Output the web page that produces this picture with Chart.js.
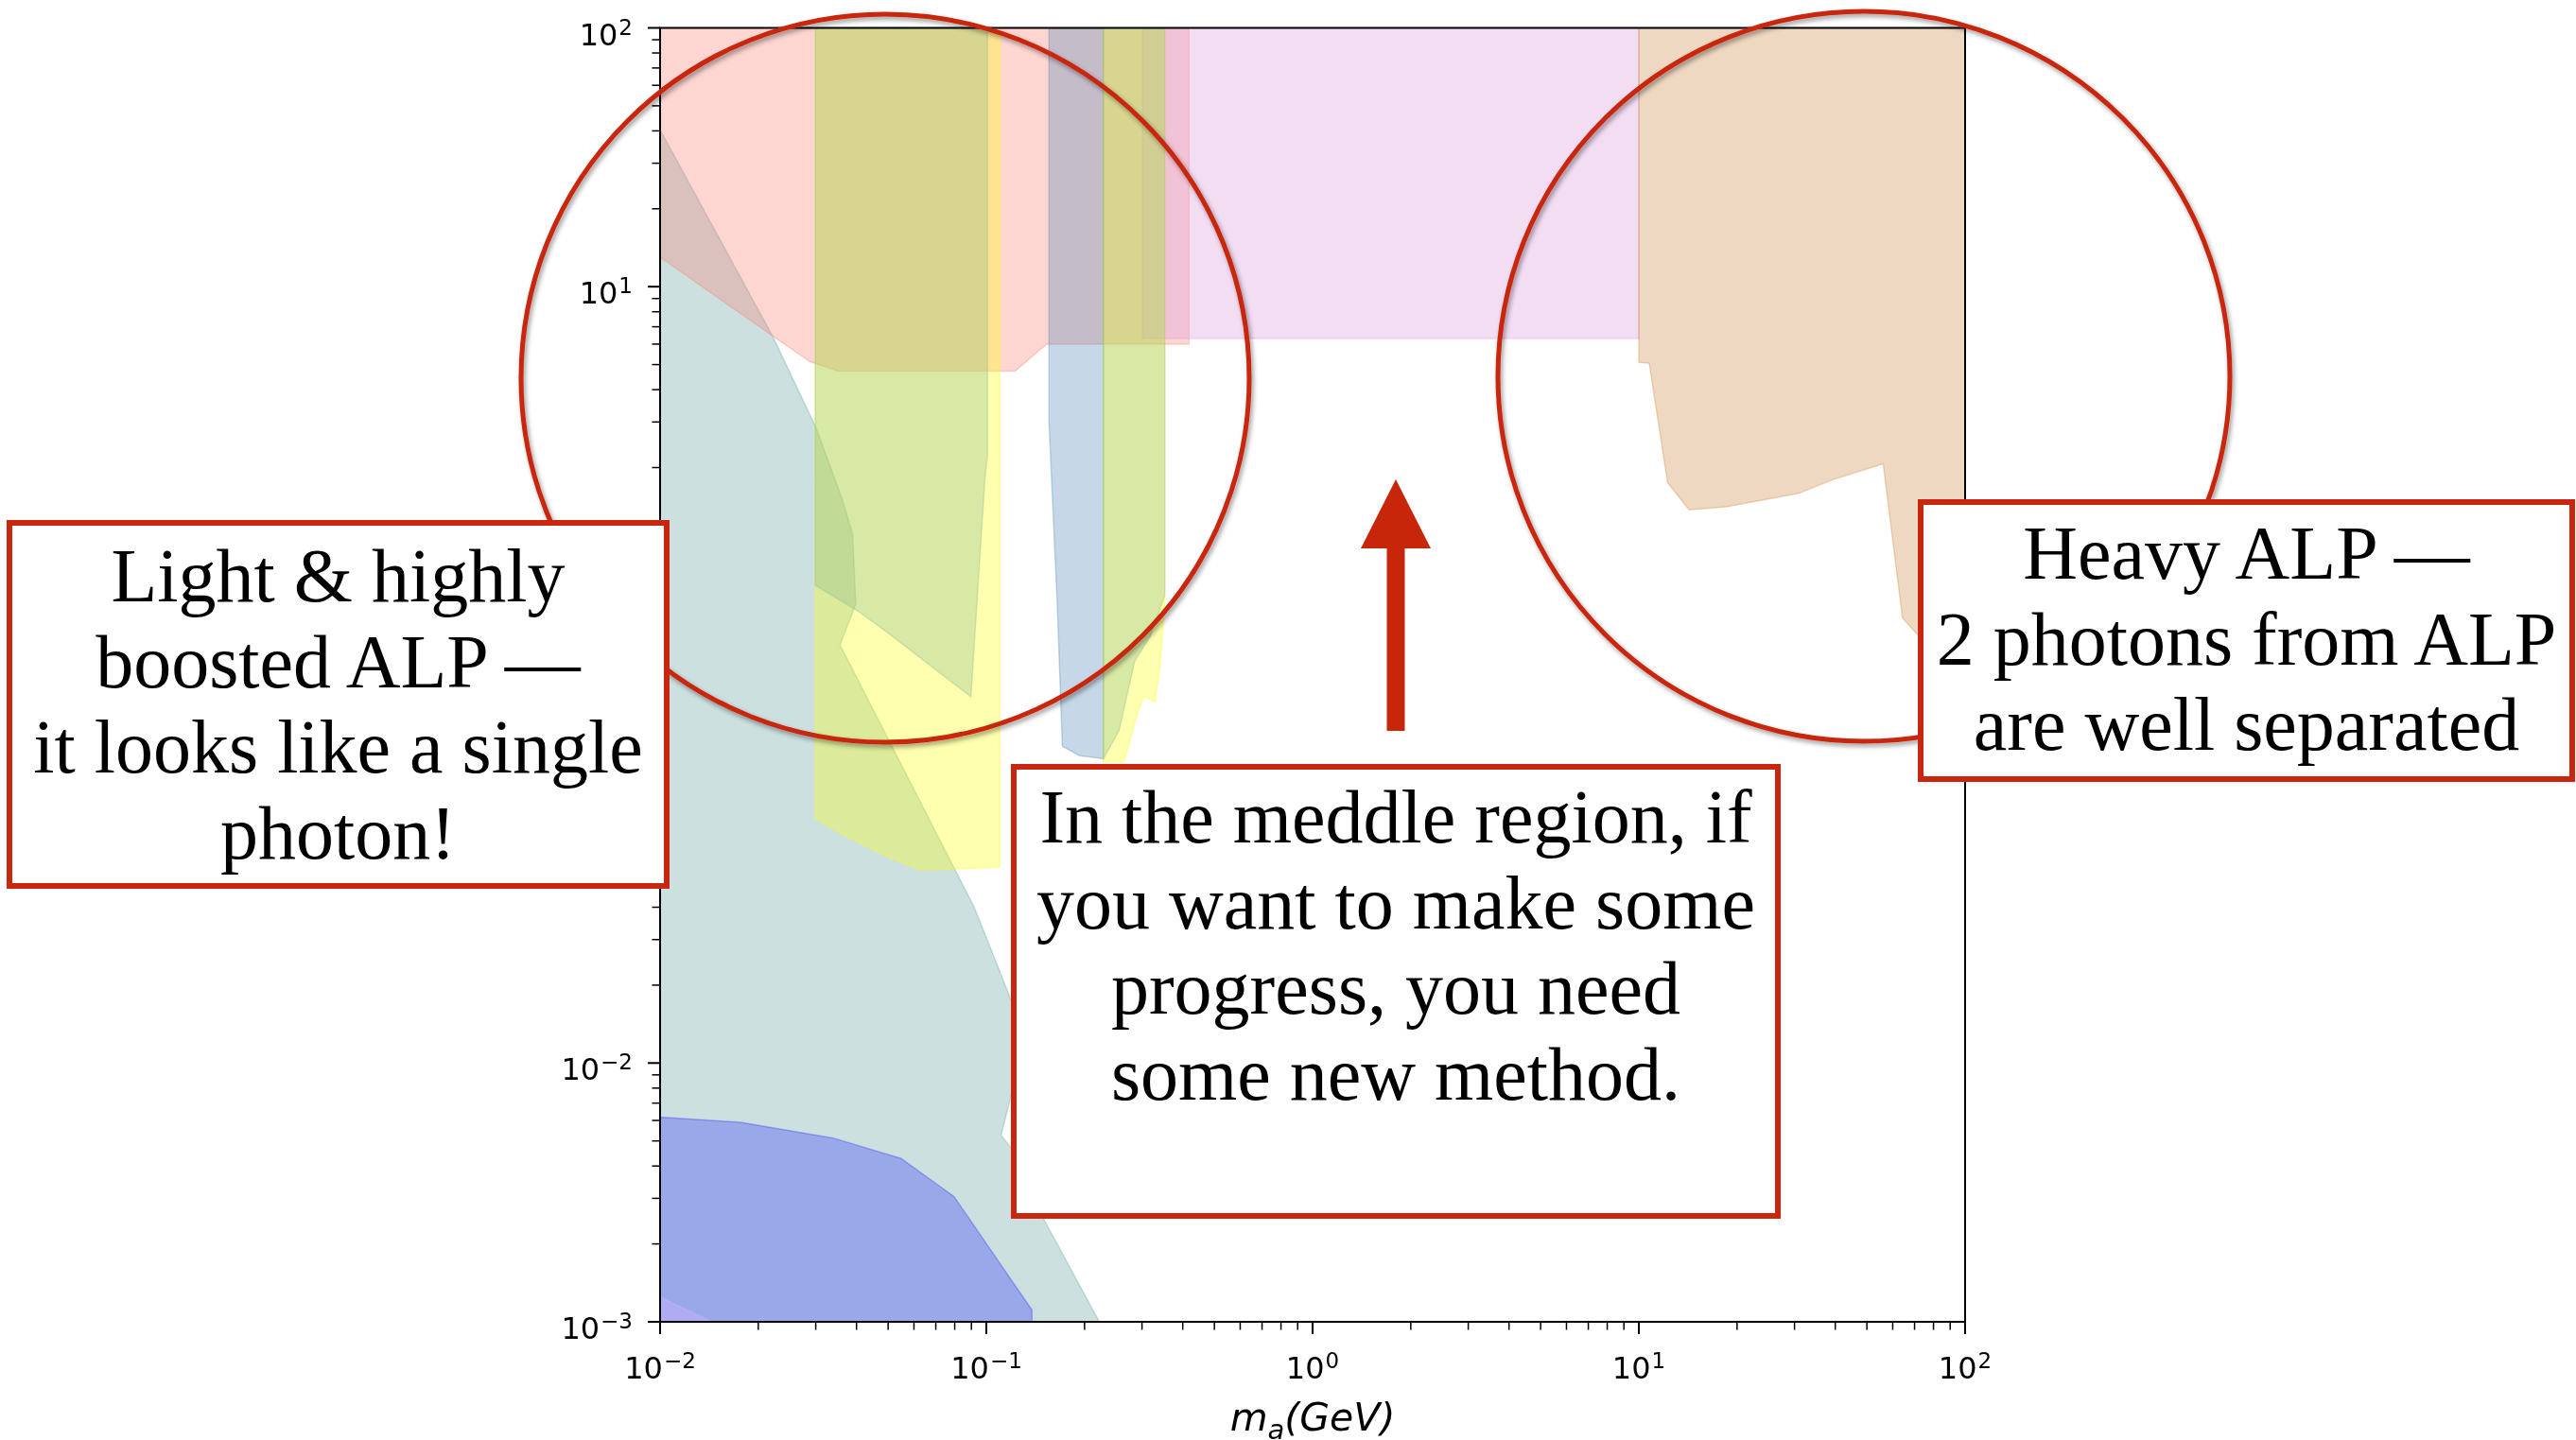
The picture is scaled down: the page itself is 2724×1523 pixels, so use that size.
<!DOCTYPE html>
<html>
<head>
<meta charset="utf-8">
<title>ALP mass vs coupling</title>
<script src="https://cdn.jsdelivr.net/npm/chart.js@4.4.1/dist/chart.umd.min.js"></script>
<style>
  html, body { margin: 0; padding: 0; background: #fff; }
  #stage { position: relative; width: 2724px; height: 1523px; overflow: hidden; background: #fff; }
  #plot { position: absolute; left: 0; top: 0; }
  #marks { position: absolute; left: 0; top: 0; pointer-events: none; }
  .note {
    position: absolute; box-sizing: border-box; background: #fff;
    border: 6px solid #C8260E; color: #000; text-align: center; white-space: nowrap;
    font-family: "Liberation Serif", "Times New Roman", serif; font-size: 80px; line-height: 90.5px;
  }
  #noteLight  { left: 7px;    top: 550px; width: 701px; height: 390px; padding-top: 8px; }
  #noteMiddle { left: 1069px; top: 808px; width: 814px; height: 481px; padding-top: 5px; }
  #noteHeavy  { left: 2028px; top: 528px; width: 695px; height: 299px; padding-top: 6px; }
</style>
</head>
<body>
<div id="stage">
  <canvas id="plot" width="2724" height="1523"></canvas>
  <svg id="marks" width="2724" height="1523" viewBox="0 0 2724 1523">
    <defs>
      <filter id="ringShadow" x="-10%" y="-10%" width="120%" height="120%">
        <feDropShadow dx="2" dy="3" stdDeviation="2.5" flood-color="#000" flood-opacity="0.4"/>
      </filter>
    </defs>
    <circle cx="936" cy="400" r="385" fill="none" stroke="#C8260E" stroke-width="5" filter="url(#ringShadow)"/>
    <ellipse cx="1971" cy="398" rx="387" ry="386" fill="none" stroke="#C8260E" stroke-width="5" filter="url(#ringShadow)"/>
    <polygon points="1476,507 1513,580 1485.5,580 1485.5,773 1466.5,773 1466.5,580 1439,580" fill="#C8260A"/>
  </svg>
  <div class="note" id="noteLight">Light &amp; highly<br>boosted ALP —<br>it looks like a single<br>photon!</div>
  <div class="note" id="noteMiddle">In the meddle region, if<br>you want to make some<br>progress, you need<br>some new method.</div>
  <div class="note" id="noteHeavy">Heavy ALP —<br>2 photons from ALP<br>are well separated</div>
</div>

<script>
// Axis decades (powers of ten) that carry a major tick and label
const xTickExponents = [-2, -1, 0, 1, 2];
const yTickExponents = [-3, -2, -1, 0, 1, 2];

// Excluded regions: ALP mass m_a [GeV] and coupling, listed as polygon vertices
const tealMass     = [0.01, 0.01, 0.0221, 0.0301, 0.0361, 0.0389, 0.0398, 0.0356, 0.0916, 0.102, 0.132, 0.111, 0.132, 0.148, 0.222];
const tealCoupling = [0.001, 40.4, 6.46, 2.84, 1.52, 1.11, 0.593, 0.413, 0.0402, 0.0287, 0.0126, 0.00526, 0.00398, 0.00257, 0.001];

const blueMass     = [0.01, 0.01, 0.01766, 0.034, 0.0548, 0.0796, 0.138, 0.138];
const blueCoupling = [0.001, 0.00618, 0.0059, 0.00513, 0.00428, 0.00305, 0.00111, 0.001];

const lavenderMass     = [0.01, 0.01, 0.0144];
const lavenderCoupling = [0.001, 0.00125, 0.001];

const pinkMass     = [0.01, 0.01, 0.0221, 0.0288, 0.0352, 0.1225, 0.153, 0.418, 0.418];
const pinkCoupling = [100, 13.0, 6.46, 5.13, 4.72, 4.72, 6.0, 6.0, 100];

const orchidMass     = [0.301, 0.301, 10, 10];
const orchidCoupling = [100, 6.31, 6.31, 100];

const peachMass     = [10, 10, 10.76, 12.25, 14.26, 18.53, 30.9, 39.3, 56.1, 64.3, 71.3, 100, 100];
const peachCoupling = [100, 5.1, 5.06, 1.75, 1.374, 1.41, 1.589, 1.795, 2.07, 0.524, 0.454, 0.28, 100];

const yellowAMass     = [0.0299, 0.0299, 0.0361, 0.0492, 0.0628, 0.110, 0.110];
const yellowACoupling = [100, 0.0881, 0.0764, 0.063, 0.0557, 0.0571, 100];

const greenAMass     = [0.0299, 0.0299, 0.0398, 0.0492, 0.0897, 0.0991, 0.1009, 0.1009];
const greenACoupling = [100, 0.702, 0.565, 0.466, 0.26, 1.84, 2.23, 100];

const steelMass     = [0.1556, 0.1556, 0.165, 0.171, 0.193, 0.2286, 0.2286];
const steelCoupling = [100, 3.0, 0.592, 0.1675, 0.154, 0.15, 100];

const yellowBMass     = [0.2286, 0.2286, 0.264, 0.2917, 0.3048, 0.3289, 0.3404, 0.3524, 0.3524];
const yellowBCoupling = [100, 0.1455, 0.1455, 0.228, 0.2624, 0.2483, 0.338, 0.5916, 100];

const greenBMass     = [0.2286, 0.2286, 0.2553, 0.285, 0.3184, 0.3524, 0.3524];
const greenBCoupling = [100, 0.15, 0.1928, 0.357, 0.4467, 0.6427, 100];

// Translucent fills, painted in this order
const regions = [
  [tealMass, tealCoupling, 'rgba(95,158,160,0.32)'],
  [blueMass, blueCoupling, 'rgba(0,0,255,0.25)'],
  [lavenderMass, lavenderCoupling, 'rgba(200,175,255,0.5)'],
  [pinkMass, pinkCoupling, 'rgba(250,128,114,0.32)'],
  [orchidMass, orchidCoupling, 'rgba(221,160,221,0.36)'],
  [peachMass, peachCoupling, 'rgba(205,133,63,0.32)'],
  [yellowAMass, yellowACoupling, 'rgba(255,255,0,0.31)'],
  [greenAMass, greenACoupling, 'rgba(143,188,143,0.35)'],
  [steelMass, steelCoupling, 'rgba(70,130,180,0.31)'],
  [yellowBMass, yellowBCoupling, 'rgba(255,255,0,0.31)'],
  [greenBMass, greenBCoupling, 'rgba(143,188,143,0.35)']
];

const datasets = regions.map(([mass, coupling, color], i) => {
  const pts = mass.map((m, k) => ({ x: m, y: coupling[k] }));
  pts.push({ x: mass[0], y: coupling[0] });
  return {
    data: pts,
    fill: 'shape',
    backgroundColor: color,
    borderColor: color,
    borderWidth: 1.5,
    pointRadius: 0,
    pointHoverRadius: 0,
    tension: 0,
    order: regions.length - i
  };
});

const TICK_FONT = '"DejaVu Sans", sans-serif';

// "10" with a raised exponent, like matplotlib's log tick labels
function drawPower(ctx, exp, x, y, anchor) {
  const base = '10';
  const sup = exp < 0 ? '\u2212' + (-exp) : String(exp);
  ctx.font = '32px ' + TICK_FONT;
  const wb = ctx.measureText(base).width;
  ctx.font = '23px ' + TICK_FONT;
  const ws = ctx.measureText(sup).width;
  const total = wb + 1 + ws;
  const left = anchor === 'center' ? x - total / 2 : x - total;
  ctx.textAlign = 'left';
  ctx.textBaseline = 'alphabetic';
  ctx.font = '32px ' + TICK_FONT;
  ctx.fillText(base, left, y);
  ctx.font = '23px ' + TICK_FONT;
  ctx.fillText(sup, left + wb + 1, y - 11);
}

const frameAndTicks = {
  id: 'frameAndTicks',
  afterDatasetsDraw(chart) {
    const { ctx, chartArea: a, scales: { x, y } } = chart;
    ctx.save();
    ctx.fillStyle = '#000';
    ctx.strokeStyle = '#000';

    // x ticks
    for (let i = 0; i < xTickExponents.length; i++) {
      const e = xTickExponents[i];
      const px = x.getPixelForValue(Math.pow(10, e));
      ctx.lineWidth = 2;
      ctx.beginPath(); ctx.moveTo(px, a.bottom); ctx.lineTo(px, a.bottom + 13); ctx.stroke();
      drawPower(ctx, e, px, 1458, 'center');
      if (i < xTickExponents.length - 1) {
        ctx.lineWidth = 1.5;
        for (let k = 2; k <= 9; k++) {
          const mx = x.getPixelForValue(k * Math.pow(10, e));
          ctx.beginPath(); ctx.moveTo(mx, a.bottom); ctx.lineTo(mx, a.bottom + 8.5); ctx.stroke();
        }
      }
    }

    // y ticks
    for (let i = 0; i < yTickExponents.length; i++) {
      const e = yTickExponents[i];
      const py = y.getPixelForValue(Math.pow(10, e));
      ctx.lineWidth = 2;
      ctx.beginPath(); ctx.moveTo(a.left, py); ctx.lineTo(a.left - 13, py); ctx.stroke();
      drawPower(ctx, e, 669, py + 18, 'right');
      if (i < yTickExponents.length - 1) {
        ctx.lineWidth = 1.5;
        for (let k = 2; k <= 9; k++) {
          const my = y.getPixelForValue(k * Math.pow(10, e));
          ctx.beginPath(); ctx.moveTo(a.left, my); ctx.lineTo(a.left - 8.5, my); ctx.stroke();
        }
      }
    }

    // frame
    ctx.lineWidth = 2;
    ctx.strokeRect(a.left, a.top, a.right - a.left, a.bottom - a.top);

    // axis title: m_a(GeV)
    const big = 'italic 41px ' + TICK_FONT, small = 'italic 29px ' + TICK_FONT;
    ctx.font = big; const wm = ctx.measureText('m').width;
    ctx.font = small; const wa = ctx.measureText('a').width;
    ctx.font = big; const wr = ctx.measureText('(GeV)').width;
    let cx = (a.left + a.right) / 2 - (wm + wa + wr) / 2;
    const base = 1513;
    ctx.textAlign = 'left';
    ctx.font = big; ctx.fillText('m', cx, base); cx += wm;
    ctx.font = small; ctx.fillText('a', cx, base + 9); cx += wa;
    ctx.font = big; ctx.fillText('(GeV)', cx, base);
    ctx.restore();
  }
};

new Chart(document.getElementById('plot'), {
  type: 'line',
  data: { datasets },
  options: {
    responsive: false,
    animation: false,
    devicePixelRatio: 1,
    events: [],
    layout: { padding: { top: 29.5, right: 646, bottom: 0, left: 0 } },
    plugins: { legend: { display: false }, tooltip: { enabled: false }, title: { display: false } },
    scales: {
      x: {
        type: 'logarithmic', min: 0.01, max: 100,
        grid: { display: false }, border: { display: false }, ticks: { display: false },
        afterFit: s => { s.height = 125; }
      },
      y: {
        type: 'logarithmic', min: 0.001, max: 100,
        grid: { display: false }, border: { display: false }, ticks: { display: false },
        afterFit: s => { s.width = 698; }
      }
    }
  },
  plugins: [frameAndTicks]
});
</script>
</body>
</html>
